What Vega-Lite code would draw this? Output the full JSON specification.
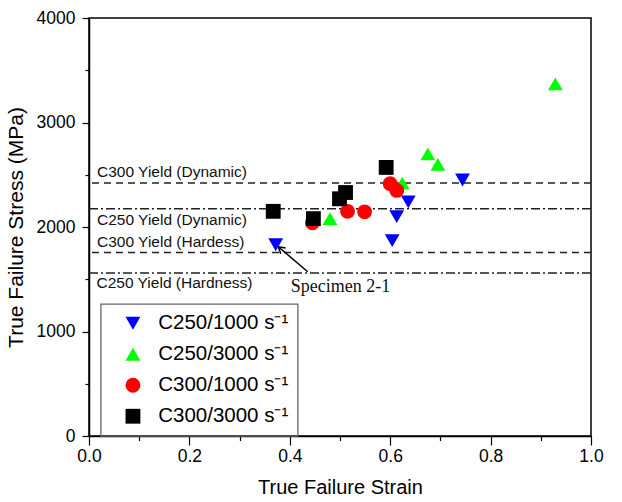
{
  "$schema": "https://vega.github.io/schema/vega-lite/v6.json",
  "width": 502,
  "height": 418,
  "autosize": {"type": "none"},
  "padding": {"left": 89, "top": 18, "right": 31, "bottom": 66},
  "background": "white",
  "config": {
    "font": "Liberation Sans",
    "view": {"stroke": "#000000", "strokeWidth": 1.5},
    "axis": {"grid": false, "domainColor": "#000000", "domainWidth": 1.5, "tickColor": "#000000", "tickWidth": 1.2, "labelColor": "#000000", "titleColor": "#000000", "labelFont": "Liberation Sans", "titleFont": "Liberation Sans", "titleFontWeight": "normal", "labelFontSize": 17.5},
    "legend": {"orient": "none", "legendX": 11.7, "legendY": 286, "strokeColor": "#666666", "strokeWidth": 1.3, "padding": 9, "symbolOffset": 13, "labelOffset": 15, "labelFontSize": 20.5, "labelFont": "Liberation Sans", "labelColor": "#000000", "rowPadding": 10, "symbolSize": 130, "symbolStrokeWidth": 0, "labelLimit": 300}
  },
  "datasets": {
    "points": [
      {"series": "C250/1000 s⁻¹", "strain": 0.372, "stress": 1830},
      {"series": "C250/1000 s⁻¹", "strain": 0.604, "stress": 1870},
      {"series": "C250/1000 s⁻¹", "strain": 0.613, "stress": 2100},
      {"series": "C250/1000 s⁻¹", "strain": 0.636, "stress": 2240},
      {"series": "C250/1000 s⁻¹", "strain": 0.744, "stress": 2450},
      {"series": "C250/3000 s⁻¹", "strain": 0.480, "stress": 2080},
      {"series": "C250/3000 s⁻¹", "strain": 0.624, "stress": 2420},
      {"series": "C250/3000 s⁻¹", "strain": 0.675, "stress": 2700},
      {"series": "C250/3000 s⁻¹", "strain": 0.695, "stress": 2600},
      {"series": "C250/3000 s⁻¹", "strain": 0.929, "stress": 3370},
      {"series": "C300/1000 s⁻¹", "strain": 0.445, "stress": 2040},
      {"series": "C300/1000 s⁻¹", "strain": 0.515, "stress": 2150},
      {"series": "C300/1000 s⁻¹", "strain": 0.549, "stress": 2145},
      {"series": "C300/1000 s⁻¹", "strain": 0.600, "stress": 2415},
      {"series": "C300/1000 s⁻¹", "strain": 0.613, "stress": 2350},
      {"series": "C300/3000 s⁻¹", "strain": 0.367, "stress": 2150},
      {"series": "C300/3000 s⁻¹", "strain": 0.447, "stress": 2080},
      {"series": "C300/3000 s⁻¹", "strain": 0.499, "stress": 2270},
      {"series": "C300/3000 s⁻¹", "strain": 0.511, "stress": 2330},
      {"series": "C300/3000 s⁻¹", "strain": 0.592, "stress": 2570}
    ],
    "lines": [
      {"name": "C300 Yield (Dynamic)", "stress": 2420, "style": "dash"},
      {"name": "C250 Yield (Dynamic)", "stress": 2175, "style": "dashdot"},
      {"name": "C300 Yield (Hardess)", "stress": 1755, "style": "dash"},
      {"name": "C250 Yield (Hardness)", "stress": 1560, "style": "dashdot"}
    ],
    "labels": [
      {"text": "C300 Yield (Dynamic)", "strain": 0.016, "stress": 2529},
      {"text": "C250 Yield (Dynamic)", "strain": 0.016, "stress": 2067},
      {"text": "C300 Yield (Hardess)", "strain": 0.016, "stress": 1853},
      {"text": "C250 Yield (Hardness)", "strain": 0.015, "stress": 1461}
    ],
    "arrow": [
      {"x": 0.4357, "y": 1572, "x2": 0.3771, "y2": 1811}
    ],
    "note": [
      {"text": "Specimen 2-1", "strain": 0.402, "stress": 1429}
    ]
  },
  "layer": [
    {
      "data": {"name": "lines"},
      "mark": {"type": "rule", "color": "#222222", "strokeWidth": 1.5},
      "encoding": {
        "y": {"field": "stress", "type": "quantitative", "scale": {"domain": [0, 4000]}},
        "strokeDash": {"field": "style", "type": "nominal", "scale": {"domain": ["dash", "dashdot"], "range": [[7, 5], [9, 3, 2, 3]]}, "legend": null}
      }
    },
    {
      "data": {"name": "labels"},
      "mark": {"type": "text", "align": "left", "baseline": "middle", "fontSize": 15.5, "font": "Liberation Sans", "color": "#111111"},
      "encoding": {
        "x": {"field": "strain", "type": "quantitative"},
        "y": {"field": "stress", "type": "quantitative"},
        "text": {"field": "text"}
      }
    },
    {
      "data": {"name": "note"},
      "mark": {"type": "text", "align": "left", "baseline": "middle", "fontSize": 18, "font": "Liberation Serif", "color": "#111111"},
      "encoding": {
        "x": {"field": "strain", "type": "quantitative"},
        "y": {"field": "stress", "type": "quantitative"},
        "text": {"field": "text"}
      }
    },
    {
      "data": {"name": "arrow"},
      "mark": {"type": "rule", "color": "#000000", "strokeWidth": 1.5},
      "encoding": {
        "x": {"field": "x", "type": "quantitative"},
        "y": {"field": "y", "type": "quantitative"},
        "x2": {"field": "x2"},
        "y2": {"field": "y2"}
      }
    },
    {
      "data": {"name": "arrow"},
      "mark": {"type": "point", "shape": "M -0.6 1 L 0 0 L 0.6 1", "filled": false, "stroke": "#000000", "strokeWidth": 1.5, "size": 160, "angle": 310, "opacity": 1},
      "encoding": {
        "x": {"field": "x2", "type": "quantitative"},
        "y": {"field": "y2", "type": "quantitative"}
      }
    },
    {
      "data": {"name": "points"},
      "mark": {"type": "point", "filled": true, "opacity": 1},
      "encoding": {
        "x": {
          "field": "strain", "type": "quantitative",
          "scale": {"domain": [0, 1], "nice": false},
          "axis": {
            "title": "True Failure Strain", "titleFontSize": 20, "titlePadding": 13,
            "values": [0, 0.1, 0.2, 0.3, 0.4, 0.5, 0.6, 0.7, 0.8, 0.9, 1.0],
            "labelExpr": "round(datum.value*10)%2===0 ? format(datum.value,'.1f') : ''",
            "tickSize": {"condition": {"test": "round(datum.value*10)%2===0", "value": 9}, "value": 4.5},
            "labelPadding": 2, "labelFlush": false, "labelOverlap": false
          }
        },
        "y": {
          "field": "stress", "type": "quantitative",
          "scale": {"domain": [0, 4000], "nice": false},
          "axis": {
            "title": "True Failure Stress (MPa)", "titleFontSize": 21, "titlePadding": 10,
            "values": [0, 500, 1000, 1500, 2000, 2500, 3000, 3500, 4000],
            "labelExpr": "datum.value%1000===0 ? format(datum.value,'d') : ''",
            "tickSize": {"condition": {"test": "datum.value%1000===0", "value": 7}, "value": 4},
            "labelPadding": 7, "labelFlush": false, "labelOverlap": false
          }
        },
        "color": {
          "field": "series", "type": "nominal",
          "scale": {"domain": ["C250/1000 s⁻¹", "C250/3000 s⁻¹", "C300/1000 s⁻¹", "C300/3000 s⁻¹"], "range": ["#0000ff", "#00ff00", "#ff0000", "#000000"]},
          "legend": {"title": null}
        },
        "shape": {
          "field": "series", "type": "nominal",
          "scale": {"domain": ["C250/1000 s⁻¹", "C250/3000 s⁻¹", "C300/1000 s⁻¹", "C300/3000 s⁻¹"], "range": ["triangle-down", "triangle-up", "circle", "square"]},
          "legend": {"title": null}
        },
        "size": {
          "field": "series", "type": "nominal",
          "scale": {"domain": ["C250/1000 s⁻¹", "C250/3000 s⁻¹", "C300/1000 s⁻¹", "C300/3000 s⁻¹"], "range": [220, 220, 100, 80]},
          "legend": null
        }
      }
    }
  ]
}
